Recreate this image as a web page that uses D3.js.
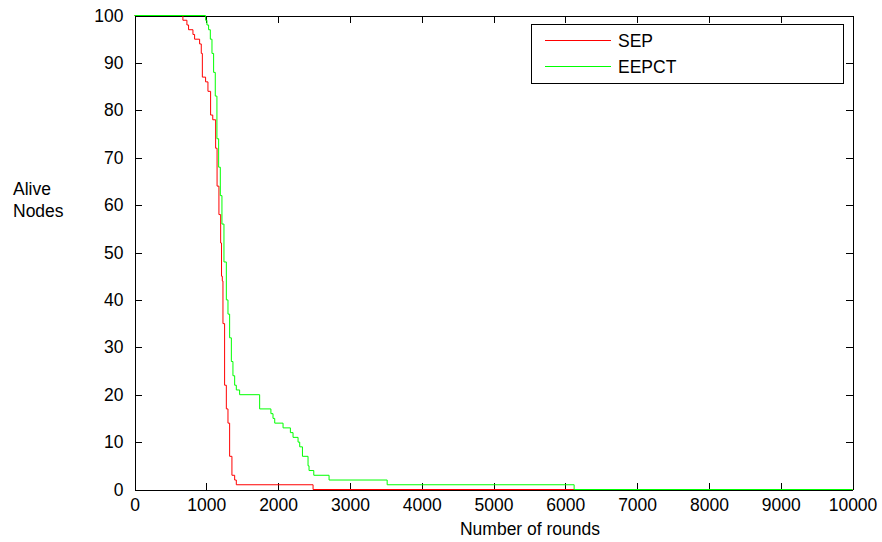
<!DOCTYPE html>
<html>
<head>
<meta charset="utf-8">
<script src="https://cdn.jsdelivr.net/npm/d3@7/dist/d3.min.js"></script>
<style>
  body { margin: 0; background: #fff; }
  svg { display: block; font-family: "Liberation Sans", Arial, sans-serif; }
</style>
</head>
<body>
<svg id="chart" width="882" height="542"></svg>
<script>
// Step data: round at which the alive count changes
const sepRounds = [0, 674, 730, 753, 814, 837, 907, 930, 945, 990, 1023, 1060, 1090, 1130, 1150, 1176, 1200, 1212, 1223, 1232, 1255, 1279, 1302, 1325, 1357, 1395, 1418, 2487, 10000];
const sepAlive  = [100, 99, 98, 97, 96, 95, 94, 92, 87, 86, 84, 79, 78, 72, 64, 58, 52, 45, 44, 35, 22, 17, 14, 7, 3, 2, 1, 0, 0];

const eepctRounds = [0, 990, 1009, 1032, 1056, 1079, 1102, 1125, 1148, 1172, 1195, 1218, 1246, 1279, 1302, 1325, 1349, 1371, 1395, 1418, 1464, 1743, 1900, 1929, 1953, 2069, 2171, 2208, 2278, 2301, 2339, 2417, 2431, 2497, 2710, 3519, 6123, 10000];
const eepctAlive  = [100, 99, 98, 97, 95, 92, 88, 83, 74, 68, 62, 56, 48, 40, 37, 32, 27, 24, 22, 21, 20, 17, 16, 15, 14, 13, 12, 11, 10, 9, 7, 5, 4, 3, 2, 1, 0, 0];

const xTicks = d3.range(0, 10001, 1000);
const yTicks = d3.range(0, 101, 10);

const seriesNames = ['SEP', 'EEPCT'];
const seriesColors = ['#ff0000', '#00ff00'];

const svg = d3.select('#chart');
const plotLeft = 134.5, plotRight = 852.5, plotTop = 15.5, plotBottom = 489.5;

const x = d3.scaleLinear().domain([0, 10000]).range([plotLeft, plotRight]);
const y = d3.scaleLinear().domain([0, 100]).range([plotBottom, plotTop]);

// Axes (MATLAB style box, ticks pointing inward)
const fontSize = '17.5px';

svg.append('g')
  .attr('transform', `translate(0,${plotBottom})`)
  .call(d3.axisBottom(x).tickValues(xTicks).tickSizeInner(-7).tickSizeOuter(0).tickPadding(9).tickFormat(d3.format('d')))
  .call(g => g.selectAll('text').attr('font-size', fontSize).attr('fill', '#000'));

svg.append('g')
  .attr('transform', `translate(0,${plotTop})`)
  .call(d3.axisTop(x).tickValues(xTicks).tickSizeInner(-7).tickSizeOuter(0).tickFormat(''));

svg.append('g')
  .attr('transform', `translate(${plotLeft},0)`)
  .call(d3.axisLeft(y).tickValues(yTicks).tickSizeInner(-7).tickSizeOuter(0).tickPadding(11))
  .call(g => g.selectAll('text').attr('font-size', fontSize).attr('fill', '#000'));

svg.append('g')
  .attr('transform', `translate(${plotRight},0)`)
  .call(d3.axisRight(y).tickValues(yTicks).tickSizeInner(-7).tickSizeOuter(0).tickFormat(''));

svg.selectAll('g').attr('font-family', null).attr('font-size', null);
svg.selectAll('.tick text').attr('font-size', fontSize);
svg.selectAll('.domain, .tick line').attr('stroke', '#000').attr('shape-rendering', 'crispEdges');

// Curves
const line = d3.line()
  .x(d => x(d[0]))
  .y(d => y(d[1]))
  .curve(d3.curveStepAfter);

const series = [
  d3.zip(sepRounds, sepAlive),
  d3.zip(eepctRounds, eepctAlive)
];

series.forEach((pts, i) => {
  svg.append('path')
    .datum(pts)
    .attr('d', line)
    .attr('fill', 'none')
    .attr('stroke', seriesColors[i])
    .attr('stroke-width', 1);
});

// Legend
const legend = svg.append('g');
legend.append('rect')
  .attr('x', 531.5).attr('y', 24.5)
  .attr('width', 312).attr('height', 59)
  .attr('fill', '#fff').attr('stroke', '#000');

seriesNames.forEach((name, i) => {
  const ly = 40.5 + i * 26;
  legend.append('line')
    .attr('x1', 545).attr('x2', 611)
    .attr('y1', ly).attr('y2', ly)
    .attr('stroke', seriesColors[i]);
  legend.append('text')
    .attr('x', 618).attr('y', ly + 6.5)
    .attr('font-size', fontSize)
    .text(name);
});

// Axis labels
svg.append('text')
  .attr('x', 530).attr('y', 535)
  .attr('text-anchor', 'middle')
  .attr('font-size', fontSize)
  .text('Number of rounds');

svg.append('text')
  .attr('x', 13).attr('y', 195)
  .attr('font-size', fontSize)
  .text('Alive');
svg.append('text')
  .attr('x', 13).attr('y', 217)
  .attr('font-size', fontSize)
  .text('Nodes');
</script>
</body>
</html>
